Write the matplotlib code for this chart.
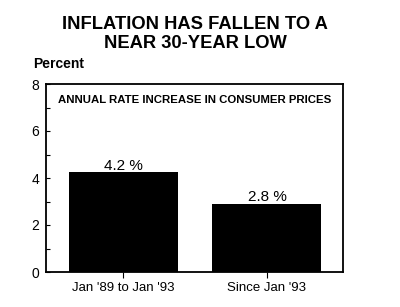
import matplotlib.pyplot as plt
from matplotlib.ticker import MultipleLocator

plt.rcParams['font.family'] = ['Liberation Sans', 'DejaVu Sans']

categories = ["Jan '89 to Jan '93", "Since Jan '93"]
values = [4.25, 2.9]
bar_labels = ["4.2 %", "2.8 %"]
yticks = [0, 2, 4, 6, 8]

fig = plt.figure(figsize=(4.0, 3.07), dpi=100)
ax = fig.add_axes([46 / 400, 1 - 272 / 307, 297 / 400, 188 / 307])

x = list(range(len(categories)))
ax.bar(x, values, width=0.757, color='black')
for xi, v, lab in zip(x, values, bar_labels):
    ax.text(xi, v - 0.02, lab, ha='center', va='bottom', fontsize=11)

ax.set_xlim(-0.535, 1.528)
ax.set_ylim(0, 8)
ax.set_xticks(x)
ax.set_xticklabels(categories, fontsize=9.5)
ax.set_yticks(yticks)
ax.set_yticklabels([str(t) for t in yticks], fontsize=10)
ax.yaxis.set_minor_locator(MultipleLocator(1))
ax.tick_params(axis='y', which='both', direction='in', length=3, width=0.8, pad=5)
ax.tick_params(axis='x', direction='out', length=4, width=0.8, pad=3)
for s in ax.spines.values():
    s.set_linewidth(1.3)

ax.text(0.5, 0.915, "ANNUAL RATE INCREASE IN CONSUMER PRICES", transform=ax.transAxes,
        ha='center', va='center', fontsize=8.2, fontweight='bold')

fig.text(195 / 400, 1 - 34 / 307, "INFLATION HAS FALLEN TO A\nNEAR 30-YEAR LOW",
         ha='center', va='center', fontsize=13.2, fontweight='bold', linespacing=1.15)
fig.text(33 / 400, 1 - 64 / 307, "Percent", ha='left', va='center',
         fontsize=10, fontweight='bold')

fig.savefig('out.png', dpi=100)
